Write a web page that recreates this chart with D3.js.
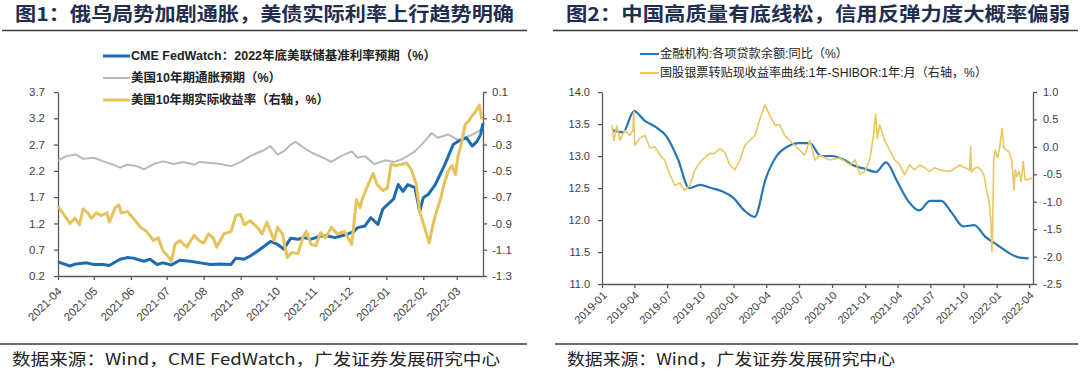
<!DOCTYPE html>
<html>
<head>
<meta charset="utf-8">
<script src="https://cdn.jsdelivr.net/npm/d3@7"></script>
<style>
  body { margin: 0; background: #fff; }
</style>
</head>
<body>
<div class="svg__graph"></div>
<script>
// ---- chart 1 data (left: CME + breakeven, right axis: real yield) ----
const fedDates = [
  '2021-04-01','2021-04-11','2021-04-16','2021-04-25','2021-05-01','2021-05-09','2021-05-14','2021-05-23','2021-05-29','2021-06-03',
  '2021-06-12','2021-06-17','2021-06-23','2021-06-28','2021-07-05','2021-07-12','2021-07-21','2021-07-29','2021-08-07','2021-08-15',
  '2021-08-24','2021-08-28','2021-09-04','2021-09-09','2021-09-15','2021-09-21','2021-09-26','2021-10-02','2021-10-07','2021-10-13',
  '2021-10-19','2021-10-24','2021-10-30','2021-11-07','2021-11-13','2021-11-19','2021-11-24','2021-11-30','2021-12-05','2021-12-08',
  '2021-12-14','2021-12-19','2021-12-25','2021-12-29','2022-01-02','2022-01-07','2022-01-11','2022-01-15','2022-01-19','2022-01-25',
  '2022-01-29','2022-02-01','2022-02-05','2022-02-11','2022-02-15','2022-02-19','2022-02-22','2022-02-26','2022-03-02','2022-03-05',
  '2022-03-09','2022-03-14','2022-03-18','2022-03-21','2022-03-23'];
const fedValues = [
  0.47,0.39,0.43,0.45,0.42,0.42,0.40,0.52,0.55,0.54,
  0.48,0.52,0.42,0.45,0.41,0.50,0.48,0.45,0.42,0.43,
  0.42,0.54,0.52,0.58,0.67,0.77,0.86,0.80,0.71,0.92,
  0.90,0.93,0.90,0.96,0.96,0.93,0.96,1.00,1.05,1.12,
  1.15,1.31,1.18,1.47,1.56,1.66,1.94,1.81,1.94,1.88,
  1.43,1.69,1.75,1.94,2.13,2.32,2.48,2.70,2.76,2.79,
  2.83,2.67,2.76,2.89,3.11];

const breakevenDates = [
  '2021-04-01','2021-04-08','2021-04-16','2021-04-22','2021-05-01','2021-05-09','2021-05-17','2021-05-23','2021-05-29','2021-06-06',
  '2021-06-12','2021-06-20','2021-06-28','2021-07-07','2021-07-15','2021-07-24','2021-07-29','2021-08-07','2021-08-15','2021-08-24',
  '2021-09-01','2021-09-09','2021-09-15','2021-09-21','2021-09-26','2021-10-02','2021-10-07','2021-10-13','2021-10-17','2021-10-24',
  '2021-10-31','2021-11-09','2021-11-16','2021-11-24','2021-12-03','2021-12-08','2021-12-14','2021-12-22','2021-12-31','2022-01-08',
  '2022-01-15','2022-01-25','2022-02-02','2022-02-08','2022-02-13','2022-02-22','2022-03-02','2022-03-08','2022-03-14','2022-03-19',
  '2022-03-23'];
const breakevenValues = [
  2.40,2.48,2.51,2.43,2.45,2.38,2.32,2.26,2.32,2.29,
  2.23,2.33,2.38,2.33,2.37,2.32,2.37,2.35,2.33,2.29,
  2.37,2.48,2.54,2.60,2.67,2.51,2.57,2.70,2.75,2.64,
  2.54,2.45,2.37,2.48,2.57,2.45,2.48,2.33,2.40,2.37,
  2.43,2.57,2.76,2.92,2.83,2.89,2.79,2.83,2.89,2.95,
  3.02];

const realDates = [
  '2021-04-01','2021-04-05','2021-04-11','2021-04-15','2021-04-19','2021-04-22','2021-04-26','2021-04-29','2021-05-03','2021-05-07',
  '2021-05-12','2021-05-14','2021-05-19','2021-05-22','2021-05-24','2021-05-29','2021-06-03','2021-06-09','2021-06-14','2021-06-20',
  '2021-06-24','2021-06-28','2021-07-03','2021-07-05','2021-07-08','2021-07-12','2021-07-18','2021-07-24','2021-07-28','2021-08-01',
  '2021-08-05','2021-08-09','2021-08-12','2021-08-18','2021-08-24','2021-08-28','2021-09-01','2021-09-04','2021-09-09','2021-09-15',
  '2021-09-19','2021-09-23','2021-09-29','2021-10-02','2021-10-06','2021-10-10','2021-10-14','2021-10-19','2021-10-23','2021-10-26',
  '2021-10-30','2021-11-03','2021-11-07','2021-11-11','2021-11-16','2021-11-21','2021-11-27','2021-12-03','2021-12-07','2021-12-10',
  '2021-12-12','2021-12-17','2021-12-21','2021-12-24','2021-12-26','2021-12-29','2022-01-02','2022-01-05','2022-01-09','2022-01-14',
  '2022-01-18','2022-01-22','2022-01-26','2022-01-29','2022-02-02','2022-02-06','2022-02-09','2022-02-12','2022-02-15','2022-02-19',
  '2022-02-22','2022-02-25','2022-02-28','2022-03-02','2022-03-05','2022-03-08','2022-03-11','2022-03-14','2022-03-16','2022-03-20',
  '2022-03-22'];
const realValues = [
  -0.77,-0.82,-0.90,-0.86,-0.91,-0.79,-0.82,-0.86,-0.82,-0.84,
  -0.82,-0.89,-0.78,-0.76,-0.82,-0.81,-0.86,-0.93,-0.96,-1.03,
  -1.01,-1.11,-1.16,-1.19,-1.06,-1.03,-1.08,-0.99,-1.03,-1.05,
  -0.98,-1.01,-1.08,-0.98,-0.96,-0.84,-0.83,-0.91,-0.88,-0.93,
  -0.98,-0.89,-1.03,-0.93,-0.98,-1.16,-1.12,-1.13,-1.01,-0.96,
  -1.06,-1.07,-0.97,-1.01,-0.93,-0.98,-0.96,-1.06,-0.72,-0.78,
  -0.71,-0.60,-0.52,-0.60,-0.62,-0.65,-0.63,-0.45,-0.46,-0.45,
  -0.44,-0.49,-0.60,-0.81,-0.93,-1.05,-0.91,-0.81,-0.73,-0.58,
  -0.50,-0.46,-0.53,-0.39,-0.29,-0.15,-0.12,-0.08,-0.06,0.00,
  -0.11];

const monthTicks1 = ['2021-04','2021-05','2021-06','2021-07','2021-08','2021-09','2021-10','2021-11','2021-12','2022-01','2022-02','2022-03'];
const leftTicks1 = [0.2, 0.7, 1.2, 1.7, 2.2, 2.7, 3.2, 3.7];
const rightTicks1 = [-1.3, -1.1, -0.9, -0.7, -0.5, -0.3, -0.1, 0.1];

// ---- chart 2 data (left: loan growth, right axis: bill - shibor spread) ----
const loanMonths = [
  '2019-01','2019-02','2019-03','2019-04','2019-05','2019-06','2019-07','2019-08','2019-09','2019-10','2019-11','2019-12',
  '2020-01','2020-02','2020-03','2020-04','2020-05','2020-06','2020-07','2020-08','2020-09','2020-10','2020-11','2020-12',
  '2021-01','2021-02','2021-03','2021-04','2021-05','2021-06','2021-07','2021-08','2021-09','2021-10','2021-11','2021-12',
  '2022-01','2022-02','2022-03'];
const loanValues = [
  13.40,13.37,13.70,13.55,13.45,13.30,12.95,12.50,12.55,12.50,12.45,12.35,
  12.15,12.05,12.65,13.00,13.15,13.20,13.20,13.00,13.00,12.95,12.85,12.80,
  12.75,12.90,12.60,12.30,12.15,12.30,12.30,12.10,11.90,11.92,11.74,11.62,
  11.50,11.42,11.40];

const billDates = [
  '2019-01-28','2019-02-03','2019-02-11','2019-02-20','2019-03-05','2019-03-19','2019-03-28','2019-03-30','2019-04-02','2019-04-16',
  '2019-04-30','2019-05-14','2019-05-28','2019-06-11','2019-06-24','2019-07-08','2019-07-22','2019-08-05','2019-08-19','2019-09-02',
  '2019-09-16','2019-09-30','2019-10-13','2019-10-27','2019-11-10','2019-11-24','2019-12-08','2019-12-22','2020-01-05','2020-01-19',
  '2020-02-02','2020-02-16','2020-03-01','2020-03-14','2020-03-28','2020-04-11','2020-04-25','2020-05-09','2020-05-22','2020-06-05',
  '2020-06-19','2020-07-03','2020-07-17','2020-07-31','2020-08-08','2020-08-14','2020-08-28','2020-09-25','2020-10-23','2020-11-20',
  '2020-12-04','2020-12-17','2020-12-31','2021-01-13','2021-01-24','2021-01-30','2021-02-04','2021-02-10','2021-02-24','2021-03-10',
  '2021-03-24','2021-04-07','2021-04-20','2021-05-04','2021-05-18','2021-06-01','2021-06-15','2021-06-29','2021-07-13','2021-07-27',
  '2021-08-24','2021-09-21','2021-09-30','2021-10-09','2021-10-18','2021-10-21','2021-10-23','2021-11-01','2021-11-10','2021-11-19',
  '2021-11-28','2021-12-02','2021-12-07','2021-12-12','2021-12-16','2021-12-19','2021-12-21','2021-12-24','2021-12-28','2022-01-04',
  '2022-01-11','2022-01-16','2022-01-21','2022-01-28','2022-02-04','2022-02-11','2022-02-15','2022-02-18','2022-02-22','2022-02-26',
  '2022-03-04','2022-03-10','2022-03-16','2022-03-21','2022-03-28','2022-04-07','2022-04-12'];
const billValues = [
  0.40,0.12,0.38,0.12,0.30,0.21,0.30,0.64,0.03,0.16,
  0.21,-0.02,0.00,-0.15,-0.24,-0.50,-0.70,-0.66,-0.79,-0.70,
  -0.42,-0.28,-0.20,-0.12,-0.12,-0.03,-0.10,-0.33,-0.42,-0.24,
  0.03,0.12,0.21,0.49,0.76,0.58,0.40,0.40,0.21,0.12,
  0.03,-0.06,-0.15,0.12,-0.06,-0.24,-0.15,-0.24,-0.20,-0.33,
  -0.24,-0.50,-0.45,-0.24,0.20,0.60,0.15,0.40,0.12,-0.06,
  -0.24,-0.33,-0.51,-0.33,-0.42,-0.33,-0.38,-0.45,-0.38,-0.42,
  -0.45,-0.33,-0.37,-0.39,-0.42,0.00,-0.46,-0.39,-0.37,-0.42,
  -0.54,-0.73,-0.88,-1.03,-1.33,-1.91,-1.40,-0.24,-0.06,-0.20,
  0.06,0.34,-0.02,-0.06,-0.09,-0.20,-0.48,-0.79,-0.42,-0.54,
  -0.45,-0.63,-0.27,-0.60,-0.60,-0.57,-0.60];

const quarterTicks2 = ['2019-01','2019-04','2019-07','2019-10','2020-01','2020-04','2020-07','2020-10','2021-01','2021-04','2021-07','2021-10','2022-01','2022-04'];
const leftTicks2 = [11.0, 11.5, 12.0, 12.5, 13.0, 13.5, 14.0];
const rightTicks2 = [-2.5, -2.0, -1.5, -1.0, -0.5, 0.0, 0.5, 1.0];

const width = 1080;
const height = 375;
const latin = '"Liberation Sans", Arial, sans-serif';
const cjk = '"Liberation Sans", "Noto Sans CJK SC", sans-serif';

const svg = d3.select('div.svg__graph').append('svg')
  .attr('width', width)
  .attr('height', height)
  .style('background-color', 'white');

const parseDay = d3.timeParse('%Y-%m-%d');
const parseMonth = d3.timeParse('%Y-%m');
const monthEnd = (m) => d3.timeDay.offset(d3.timeMonth.offset(parseMonth(m), 1), -1);
const toPoints = (dates, values, parse) => dates.map((d, i) => ({ date: parse(d), value: values[i] }));
const fmt = (d) => d.toFixed(1);

const styleAxis = (g, size) => {
  g.attr('font-family', latin).attr('font-size', size);
  g.select('.domain').attr('stroke', '#595959').attr('stroke-width', 1.3);
  g.selectAll('.tick line').attr('stroke', '#595959').attr('stroke-width', 1.3);
  g.selectAll('.tick text').attr('fill', '#404040');
};

const drawLine = (points, x, y, color, w, curve) => {
  svg.append('path')
    .datum(points)
    .attr('fill', 'none')
    .attr('stroke', color)
    .attr('stroke-width', w)
    .attr('stroke-linejoin', 'round')
    .attr('d', d3.line().curve(curve || d3.curveLinear).x(d => x(d.date)).y(d => y(d.value)));
};

// titles + rules
const titles = [
  { x: 15, y: 21, len: 499, text: '图1：俄乌局势加剧通胀，美债实际利率上行趋势明确' },
  { x: 566, y: 21, len: 504, text: '图2：中国高质量有底线松，信用反弹力度大概率偏弱' },
];
titles.forEach(t => {
  svg.append('text')
    .attr('x', t.x).attr('y', t.y)
    .attr('font-family', '"Noto Sans CJK SC", sans-serif')
    .attr('font-size', 19)
    .attr('font-weight', 'bold')
    .attr('fill', '#1f2e4d')
    .attr('textLength', t.len)
    .attr('lengthAdjust', 'spacingAndGlyphs')
    .text(t.text);
});

[[2, 527, 30.5], [553, 1078, 30.5], [0, 527, 344], [555, 1078, 344]].forEach(r => {
  svg.append('line')
    .attr('x1', r[0]).attr('x2', r[1]).attr('y1', r[2]).attr('y2', r[2])
    .attr('stroke', '#3a3a3a').attr('stroke-width', 1.5);
});

const sources = [
  { x: 12, len: 488, text: '数据来源：Wind，CME FedWatch，广发证券发展研究中心' },
  { x: 567, len: 328, text: '数据来源：Wind，广发证券发展研究中心' },
];
sources.forEach(s => {
  svg.append('text')
    .attr('x', s.x).attr('y', 365)
    .attr('font-family', '"Liberation Sans Narrow", "Noto Sans CJK SC", sans-serif')
    .attr('font-size', 16)
    .attr('fill', '#222')
    .attr('textLength', s.len)
    .attr('lengthAdjust', 'spacingAndGlyphs')
    .text(s.text);
});

// ---------------- chart 1 ----------------
const x1 = d3.scaleTime()
  .domain([parseDay('2021-04-01'), parseDay('2022-03-23')])
  .range([58, 483]);
const y1 = d3.scaleLinear().domain([0.2, 3.7]).range([276, 92]);
const y1r = d3.scaleLinear().domain([-1.3, 0.1]).range([276, 92]);

const ax1l = svg.append('g').attr('transform', 'translate(58,0)')
  .call(d3.axisLeft(y1).tickValues(leftTicks1).tickFormat(fmt).tickSize(4).tickSizeOuter(0).tickPadding(9));
styleAxis(ax1l, 11.5);

const ax1r = svg.append('g').attr('transform', 'translate(483,0)')
  .call(d3.axisRight(y1r).tickValues(rightTicks1).tickFormat(fmt).tickSize(4).tickSizeOuter(0).tickPadding(5));
styleAxis(ax1r, 11.5);

const ax1b = svg.append('g').attr('transform', 'translate(0,276)')
  .call(d3.axisBottom(x1).tickValues(monthTicks1.map(parseMonth)).tickFormat(d3.timeFormat('%Y-%m')).tickSize(4).tickSizeOuter(0));
styleAxis(ax1b, 11.5);
ax1b.selectAll('.tick text')
  .attr('text-anchor', 'end')
  .attr('x', 0).attr('y', 0).attr('dy', 0)
  .attr('transform', 'translate(4,16) rotate(-45)');

drawLine(toPoints(breakevenDates, breakevenValues, parseDay), x1, y1, '#b8b8b8', 2);
drawLine(toPoints(fedDates, fedValues, parseDay), x1, y1, '#1d6cb1', 3);
drawLine(toPoints(realDates, realValues, parseDay), x1, y1r, '#e5c35c', 3);

// legend 1
const legend1 = [
  { y: 56, color: '#1d6cb1', w: 3, len: 305, text: 'CME FedWatch：2022年底美联储基准利率预期（%）' },
  { y: 78, color: '#b8b8b8', w: 2, len: 150, text: '美国10年期通胀预期（%）' },
  { y: 100, color: '#e5c35c', w: 3, len: 198, text: '美国10年期实际收益率（右轴，%）' },
];
legend1.forEach(l => {
  svg.append('line')
    .attr('x1', 103).attr('x2', 130).attr('y1', l.y).attr('y2', l.y)
    .attr('stroke', l.color).attr('stroke-width', l.w);
  svg.append('text')
    .attr('x', 131).attr('y', l.y)
    .attr('dy', '0.35em')
    .attr('font-family', cjk)
    .attr('font-size', 12.5)
    .attr('font-weight', 'bold')
    .attr('fill', '#222')
    .attr('textLength', l.len)
    .attr('lengthAdjust', 'spacingAndGlyphs')
    .text(l.text);
});

// ---------------- chart 2 ----------------
const x2 = d3.scaleTime()
  .domain([parseDay('2019-01-01'), parseDay('2022-04-12')])
  .range([602, 1033]);
const y2 = d3.scaleLinear().domain([11, 14]).range([284, 92]);
const y2r = d3.scaleLinear().domain([-2.5, 1]).range([284, 92]);

const ax2l = svg.append('g').attr('transform', 'translate(602,0)')
  .call(d3.axisLeft(y2).tickValues(leftTicks2).tickFormat(fmt).tickSize(4).tickSizeOuter(0).tickPadding(8));
styleAxis(ax2l, 11);

const ax2r = svg.append('g').attr('transform', 'translate(1033,0)')
  .call(d3.axisRight(y2r).tickValues(rightTicks2).tickFormat(fmt).tickSize(4).tickSizeOuter(0).tickPadding(6));
styleAxis(ax2r, 11);

const ax2b = svg.append('g').attr('transform', 'translate(0,284)')
  .call(d3.axisBottom(x2).tickValues(quarterTicks2.map(parseMonth)).tickFormat(d3.timeFormat('%Y-%m')).tickSize(4).tickSizeOuter(0));
styleAxis(ax2b, 11);
ax2b.selectAll('.tick text')
  .attr('text-anchor', 'end')
  .attr('x', 0).attr('y', 0).attr('dy', 0)
  .attr('transform', 'translate(5,12) rotate(-45)');

// monthly loan growth drawn as a smoothed curve, like the original
drawLine(toPoints(loanMonths, loanValues, monthEnd), x2, y2, '#2676b6', 2.2, d3.curveMonotoneX);
drawLine(toPoints(billDates, billValues, parseDay), x2, y2r, '#e8c761', 1.6);

// legend 2
const legend2 = [
  { y: 54, color: '#2676b6', len: 188, text: '金融机构:各项贷款余额:同比（%）' },
  { y: 73, color: '#e8c761', len: 327, text: '国股银票转贴现收益率曲线:1年-SHIBOR:1年:月（右轴，%）' },
];
legend2.forEach(l => {
  svg.append('line')
    .attr('x1', 640).attr('x2', 659).attr('y1', l.y).attr('y2', l.y)
    .attr('stroke', l.color).attr('stroke-width', 2);
  svg.append('text')
    .attr('x', 660).attr('y', l.y)
    .attr('dy', '0.35em')
    .attr('font-family', cjk)
    .attr('font-size', 12)
    .attr('fill', '#222')
    .attr('textLength', l.len)
    .attr('lengthAdjust', 'spacingAndGlyphs')
    .text(l.text);
});
</script>
</body>
</html>
